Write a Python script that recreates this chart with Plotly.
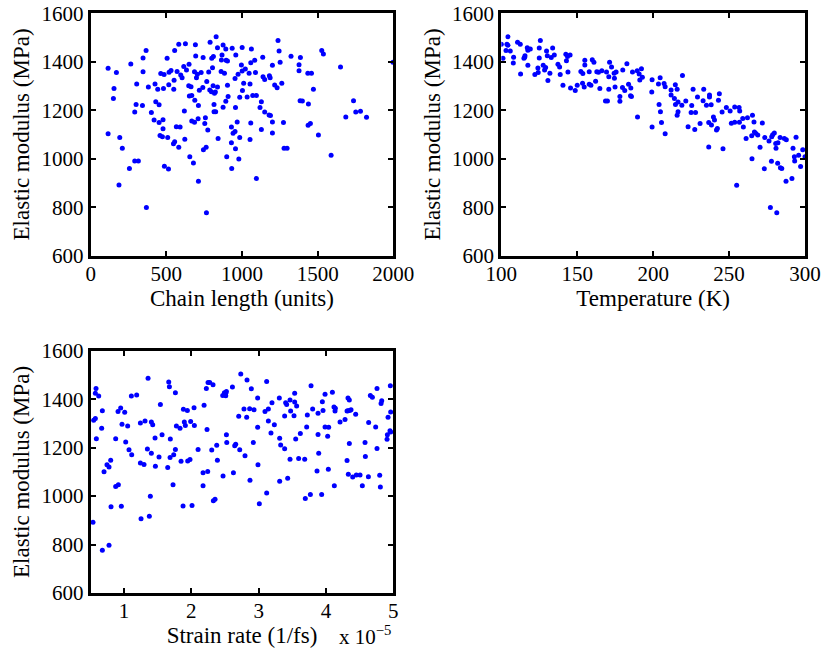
import plotly.graph_objects as go

# ---------------- data ----------------
chain_length = [
    115, 170, 154, 150, 115, 192, 209, 187, 256, 291, 315, 265, 346, 366, 346, 304, 381, 300, 342, 291,
    368, 401, 430, 452, 419, 452, 478, 478, 458, 474, 509, 487, 514, 425, 443, 481, 463, 485, 518, 531,
    516, 549, 551, 505, 555, 582, 626, 692, 694, 743, 789, 829, 838, 875, 893, 935, 1001, 959, 800, 811,
    868, 864, 895, 904, 996, 805, 780, 862, 884, 954, 974, 1001, 571, 595, 604, 615, 633, 650, 686, 705,
    730, 699, 648, 663, 718, 741, 767, 787, 809, 838, 798, 818, 824, 652, 668, 688, 712, 619, 815, 815,
    826, 875, 904, 908, 893, 957, 985, 758, 710, 668, 686, 754, 774, 566, 591, 555, 547, 582, 622, 655,
    679, 712, 745, 763, 765, 842, 899, 930, 932, 957, 941, 954, 930, 968, 985, 979,
    1062, 1022, 1047, 1058, 1084, 1089, 1137, 1011, 1053, 1003, 1034, 1071, 1095, 1128, 1119, 1150, 1179, 1188,
    1201, 1274, 1058, 1053, 1128, 1201, 1095, 1238, 1245, 1252, 1201, 1139, 1150, 1181, 1186, 1216, 1232, 1263,
    1324, 1386, 1377, 1377, 1435, 1459, 1472, 1384, 1399, 1439, 1437, 1452, 1505, 1278, 1298, 1527, 1538, 1651,
    1589, 1686, 1737, 1752, 1783, 1823, 1998,
]
modulus_chain = [
    1373, 1355, 1290, 1248, 1103, 1087, 1043, 892, 960, 991, 991, 1391, 1415, 1446, 1359, 1308, 1296, 1223, 1219, 1193,
    799, 1191, 1235, 1222, 1160, 1149, 1161, 1123, 1096, 1091, 1087, 969, 958, 1308, 1286, 1290, 1351, 1347, 1356, 1364,
    1305, 1286, 1323, 1414, 1446, 1472, 1474, 1470, 1424, 1417, 1480, 1503, 1458, 1469, 1452, 1455, 1459, 1428, 1414, 1421,
    1428, 1407, 1406, 1403, 1386, 1375, 1358, 1360, 1352, 1331, 1348, 1362, 1360, 1345, 1334, 1380, 1366, 1389, 1359, 1348,
    1355, 1334, 1301, 1297, 1282, 1294, 1318, 1283, 1301, 1296, 1276, 1270, 1275, 1259, 1261, 1241, 1219, 1197, 1223, 1194,
    1194, 1212, 1303, 1256, 1237, 1211, 1253, 1169, 1165, 1155, 1150, 1145, 1118, 1132, 1131, 1070, 1062, 1047, 1080, 1008,
    982, 907, 1037, 1047, 777, 1083, 1008, 1066, 960, 1041, 1105, 1112, 1131, 1151, 1087, 999,
    1452, 1370, 1352, 1396, 1406, 1355, 1418, 1311, 1308, 1281, 1254, 1261, 1261, 1235, 1211, 1193, 1180, 1178,
    1151, 1149, 1147, 1079, 1120, 1106, 918, 1487, 1444, 1398, 1385, 1338, 1327, 1342, 1334, 1304, 1293, 1311,
    1422, 1417, 1387, 1363, 1352, 1352, 1286, 1239, 1238, 1226, 1138, 1145, 1098, 1043, 1043, 1446, 1432, 1378,
    1014, 1172, 1239, 1193, 1196, 1171, 1398,
]

temperature = [
    100.0, 104.4, 103.7, 104.4, 101.1, 103.1, 105.9, 108.1, 107.9, 110.7, 112.5, 112.7, 114.9, 115.6, 115.4, 117.1,
    119.1, 117.5, 117.5, 122.1, 124.1, 124.3, 125.0, 125.0, 125.7, 127.6, 128.5, 129.2, 129.8, 130.3, 130.7, 132.0,
    132.9, 133.8, 134.9, 137.3, 138.4, 138.8, 140.6, 142.5, 142.9, 143.6, 145.3, 143.9, 145.6, 148.7, 150.0, 152.4,
    153.7, 153.5, 154.6, 155.0, 155.0, 157.9, 157.9, 159.0, 159.9, 161.0, 162.1, 162.9, 164.0, 164.9, 166.2, 169.3,
    171.3, 172.6, 170.8, 170.8, 174.3, 175.6, 174.5, 174.9, 168.6, 169.9, 178.1, 178.1, 180.0, 179.8, 181.3, 182.7,
    183.8, 185.3, 185.1, 185.7, 186.4, 189.5, 190.8, 191.2, 192.3, 192.9, 189.7, 199.3, 199.1, 199.3,
    204.6, 203.5, 207.2, 207.9, 203.9, 204.8, 205.5, 207.9, 211.8, 214.6, 215.8, 211.8, 214.0, 214.7, 216.4, 216.4,
    215.8, 218.9, 219.3, 221.5, 225.4, 225.0, 226.3, 227.9, 229.2, 223.0, 227.4, 230.9, 232.9, 233.3, 235.1, 237.1,
    237.1, 238.2, 236.6, 238.4, 239.7, 240.4, 241.7, 242.3, 243.0, 243.6, 236.6, 246.0, 245.4, 248.2, 250.7, 251.5,
    253.7, 253.7, 256.6, 257.0, 256.8, 255.0, 259.0, 259.4, 262.1, 261.2, 265.4, 266.4, 264.9, 266.7, 267.5, 268.9,
    271.9, 270.4, 265.1, 273.2, 273.5, 276.3, 278.1, 278.7, 279.8, 280.7, 280.9, 282.2, 283.6, 286.4, 287.7, 294.1,
    277.9, 282.0, 283.8, 284.7, 287.5, 291.4, 292.1, 293.0, 293.2, 295.8, 297.1, 298.5, 300.0, 277.2, 281.4,
]
modulus_temp = [
    1472, 1503, 1472, 1468, 1414, 1446, 1444, 1418, 1395, 1480, 1472, 1349, 1414, 1425, 1418, 1458,
    1452, 1447, 1385, 1347, 1374, 1355, 1415, 1457, 1487, 1385, 1366, 1376, 1444, 1425, 1322, 1352,
    1417, 1457, 1428, 1389, 1378, 1347, 1303, 1431, 1404, 1421, 1428, 1358, 1292, 1281, 1303, 1360,
    1351, 1311, 1296, 1406, 1386, 1359, 1307, 1303, 1408, 1398, 1319, 1359, 1356, 1290, 1363, 1358,
    1398, 1378, 1338, 1286, 1352, 1358, 1332, 1296, 1238, 1238, 1256, 1237, 1366, 1294, 1281, 1392,
    1307, 1292, 1260, 1257, 1358, 1363, 1349, 1325, 1371, 1336, 1172, 1326, 1275, 1131,
    1334, 1308, 1310, 1297, 1224, 1194, 1149, 1103, 1283, 1305, 1286, 1263, 1248, 1223, 1234, 1194,
    1179, 1220, 1343, 1238, 1219, 1191, 1286, 1191, 1254, 1132, 1120, 1145, 1239, 1286, 1220, 1263,
    1254, 1222, 1149, 1139, 1172, 1160, 1118, 1125, 1241, 1268, 1048, 1041, 1193, 1211, 1197, 1146,
    1150, 1213, 1211, 1197, 1150, 891, 1166, 1131, 1169, 1083, 1179, 1151, 1095, 1110, 1105, 1098,
    1147, 1047, 1000, 959, 1087, 1073, 1091, 1099, 1106, 1063, 1043, 1066, 1087, 1083, 1078, 1088,
    989, 981, 963, 960, 907, 918, 1043, 1008, 991, 1014, 968, 1037, 1008, 799, 777,
]

strain_rate_e5 = [  # strain rate in units of 1e-5 1/fs
    0.539, 0.549, 0.574, 0.574, 0.584, 0.624, 0.589, 0.668, 0.678, 0.678, 0.777, 0.703, 0.747, 0.777, 0.802, 0.807,
    0.876, 0.916, 0.876, 0.911, 0.950, 1.010, 0.970, 1.054, 1.025, 1.074, 1.114, 0.960, 1.109, 1.188, 1.357, 1.243,
    1.312, 1.406, 1.426, 1.347, 1.406, 1.243, 1.297, 1.391, 1.253, 1.376, 1.461, 1.466, 1.520, 1.540, 1.565, 1.649,
    1.664, 1.674, 1.763, 1.688, 1.684, 1.738, 1.763, 1.778, 1.832, 1.728, 1.882, 1.941, 1.896, 1.911, 1.990, 2.040,
    2.045, 1.847, 1.946, 1.980, 1.877, 2.010, 2.100, 2.189, 2.233, 2.223, 2.248, 2.273, 2.322, 2.174, 2.243, 2.174,
    2.303, 2.377, 2.387, 2.327, 2.352, 2.471, 2.466, 2.491, 2.511, 2.521, 2.511, 2.521, 2.526, 2.610, 2.625, 2.644,
    2.659, 2.704, 2.719, 2.734,
    2.827, 2.891, 2.782, 2.822, 2.866, 2.931, 2.985, 2.985, 2.921, 2.797, 2.871, 2.990, 3.010, 3.094, 3.119, 3.144,
    3.144, 3.198, 3.183, 3.233, 3.307, 3.119, 3.312, 3.327, 3.386, 3.312, 3.431, 3.386, 3.401, 3.416, 3.466, 3.475,
    3.525, 3.535, 3.535, 3.564, 3.550, 3.466, 3.594, 3.619, 3.684, 3.713, 3.723, 3.778, 3.802, 3.882, 3.882, 3.892,
    3.867, 3.693, 3.768, 3.936, 3.946, 3.956, 3.986, 3.986, 4.040, 4.025, 4.035, 4.095, 4.119, 4.134, 4.139, 4.124,
    4.209, 4.283, 4.313, 4.327, 4.347, 4.327, 4.352, 4.372, 4.347, 4.313, 4.332, 4.397, 4.451, 4.506, 4.441, 4.540,
    4.580, 4.585, 4.634, 4.659, 4.689, 4.630, 4.738, 4.758, 4.758, 4.798, 4.808, 4.818, 4.828, 4.922, 4.956, 4.961,
    4.951, 4.912, 4.907, 4.961,
]
modulus_strain = [
    892, 1313, 1321, 1425, 1445, 1414, 1237, 1280, 1353, 776, 797, 1101, 1130, 1120, 1148, 956,
    1040, 1047, 1237, 1350, 1364, 1346, 1297, 1290, 1224, 1192, 1171, 958, 1414, 1418, 1487, 1302,
    1310, 1306, 1295, 1195, 1177, 1137, 1131, 999, 906, 917, 1240, 1123, 1162, 1378, 1254, 1118,
    1471, 1452, 1427, 1236, 1159, 1171, 1193, 1290, 1280, 1047, 1359, 1354, 1306, 1292, 1308, 1365,
    1292, 1144, 1145, 1151, 959, 961, 1193, 1375, 1275, 1445, 1469, 1469, 1460, 1097, 1102, 1043,
    1191, 1210, 1148, 981, 987, 1083, 1416, 1427, 1425, 1432, 1415, 1254, 1221, 1451, 1096, 1208,
    1214, 1330, 1192, 1505,
    1480, 1444, 1360, 1326, 1361, 1357, 1405, 1284, 1221, 1167, 1065, 1130, 968, 1350, 1474, 1360,
    1310, 1386, 1261, 1295, 1405, 1013, 1239, 1211, 1196, 1061, 1074, 1331, 1386, 1378, 1397, 1352,
    1332, 1425, 1389, 1372, 1236, 1152, 1155, 1259, 1152, 1286, 1335, 1456, 1360, 1342, 1255, 1177,
    1104, 990, 1007, 1007, 1390, 1354, 1421, 1286, 1284, 1247, 1111, 1429, 1368, 1352, 1363, 1043,
    1306, 1317, 1352, 1405, 1397, 1353, 1354, 1357, 1217, 1147, 1090, 1079, 1087, 1087, 1338, 1043,
    1221, 1164, 1304, 1416, 1408, 1080, 1286, 1445, 1197, 1086, 1038, 1383, 1394, 1326, 1456, 1348,
    1270, 1253, 1235, 1265,
]

y_ticks = [600, 800, 1000, 1200, 1400, 1600]
chain_ticks = [0, 500, 1000, 1500, 2000]
temp_ticks = [100, 150, 200, 250, 300]
strain_ticks = [1, 2, 3, 4, 5]

# ---------------- figure ----------------
W, H = 825, 658
FONT = "'Liberation Serif', 'Times New Roman', Times, serif"
FS_TICK = 21
FS_TITLE = 23

fig = go.Figure()
marker = dict(color="#0000FF", size=5, line=dict(width=0))
fig.add_trace(go.Scatter(x=chain_length, y=modulus_chain, mode="markers", marker=marker,
                         xaxis="x", yaxis="y", showlegend=False))
fig.add_trace(go.Scatter(x=temperature, y=modulus_temp, mode="markers", marker=marker,
                         xaxis="x2", yaxis="y2", showlegend=False))
fig.add_trace(go.Scatter(x=strain_rate_e5, y=modulus_strain, mode="markers", marker=marker,
                         xaxis="x3", yaxis="y3", showlegend=False))

def px_x(a, b):
    return [a / W, b / W]

def px_y(top, bottom):
    return [1 - bottom / H, 1 - top / H]

axis_common = dict(showline=True, linecolor="black", linewidth=3, mirror="ticks",
                   ticks="inside", ticklen=5, tickwidth=1.5, tickcolor="black",
                   showgrid=False, zeroline=False, automargin=False,
                   tickfont=dict(family=FONT, size=FS_TICK, color="black"))
x_extra = dict(ticklabelstandoff=-3)
title_font = dict(family=FONT, size=FS_TITLE, color="black")

dom1x = px_x(90.7, 393.3)
dom2x = px_x(501.3, 805.0)
dom_top = px_y(13.2, 255.7)
dom_bot = px_y(350.9, 592.9)

fig.update_layout(
    width=W, height=H,
    template="none",
    font=dict(family=FONT, size=FS_TICK, color="black"),
    margin=dict(l=0, r=0, t=0, b=0),
    paper_bgcolor="white", plot_bgcolor="white",
    xaxis=dict(domain=dom1x, anchor="y", range=[0, 2000], tickvals=chain_ticks,
               title=dict(text="Chain length (units)", font=title_font, standoff=0),
               **axis_common, **x_extra),
    yaxis=dict(domain=dom_top, anchor="x", range=[600, 1600], tickvals=y_ticks,
               title=dict(text="Elastic modulus (MPa)", font=title_font, standoff=6), **axis_common),
    xaxis2=dict(domain=dom2x, anchor="y2", range=[100, 300], tickvals=temp_ticks,
                title=dict(text="Temperature (K)", font=title_font, standoff=0),
                **axis_common, **x_extra),
    yaxis2=dict(domain=dom_top, anchor="x2", range=[600, 1600], tickvals=y_ticks,
                title=dict(text="Elastic modulus (MPa)", font=title_font, standoff=6), **axis_common),
    xaxis3=dict(domain=dom1x, anchor="y3", range=[0.505, 5.0], tickvals=strain_ticks,
                title=dict(text="Strain rate (1/fs)", font=title_font, standoff=0),
                **axis_common, **x_extra),
    yaxis3=dict(domain=dom_bot, anchor="x3", range=[600, 1600], tickvals=y_ticks,
                title=dict(text="Elastic modulus (MPa)", font=title_font, standoff=6), **axis_common),
)

fig.add_annotation(text="x 10<sup>\u22125</sup>", xref="paper", yref="paper",
                   x=393 / W, y=1 - 651 / H, xanchor="right", yanchor="bottom",
                   showarrow=False, font=dict(family=FONT, size=FS_TICK, color="black"))

fig.write_html("out.html")
